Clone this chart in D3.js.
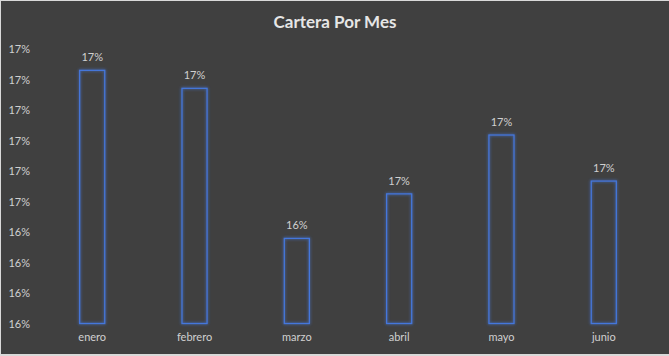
<!DOCTYPE html>
<html><head><meta charset="utf-8">
<script src="https://cdn.jsdelivr.net/npm/d3@7"></script>
<style>
html,body{margin:0;padding:0;background:#d9d9d9;overflow:hidden;}
svg{display:block;}
</style></head>
<body>
<script>
const categories = ["enero","febrero","marzo","abril","mayo","junio"];
const values = [0.16930, 0.16871, 0.16379, 0.16525, 0.16718, 0.16567];
const yTicks = [0.161,0.162,0.163,0.164,0.165,0.166,0.167,0.168,0.169,0.170];
const title = "Cartera Por Mes";

const W = 669, H = 356;
const svg = d3.select("body").append("svg").attr("width", W).attr("height", H);
const defs = svg.append("defs");
const f = defs.append("filter").attr("id","glow").attr("x","-50%").attr("y","-50%").attr("width","200%").attr("height","200%");
f.append("feGaussianBlur").attr("in","SourceGraphic").attr("stdDeviation",1.8).attr("result","b");
const m = f.append("feMerge");
m.append("feMergeNode").attr("in","b");
m.append("feMergeNode").attr("in","SourceGraphic");

svg.append("rect").attr("x",1).attr("y",1).attr("width",W-1).attr("height",H-3).attr("fill","#404040");

const font = "Lato, 'Open Sans', sans-serif";
const x = d3.scaleBand().domain(categories).range([41, 655]).paddingInner(0.755).paddingOuter(0.378);
const y = d3.scaleLinear().domain([0.161, 0.170]).range([323.5, 49]);
const fmt = d3.format(".0%");

svg.append("text").attr("x", 335).attr("y", 28).attr("text-anchor","middle")
  .attr("font-family", font).attr("font-weight","bold").attr("font-size", 17)
  .attr("fill","#e6e6e6").text(title);

const yAxis = svg.append("g").attr("transform","translate(30,0)")
  .call(d3.axisLeft(y).tickValues(yTicks).tickFormat(fmt).tickSize(0).tickPadding(0));
yAxis.select(".domain").remove();
yAxis.selectAll("text").attr("font-family", font).attr("font-size", 11).attr("fill","#d0d0d0");

const xAxis = svg.append("g").attr("transform","translate(0,323.5)")
  .call(d3.axisBottom(x).tickSize(0).tickPadding(10));
xAxis.select(".domain").remove();
xAxis.selectAll("text").attr("font-family", font).attr("font-size", 11).attr("fill","#d0d0d0");

const data = categories.map((c,i)=>({c, v: values[i]}));
svg.append("g").selectAll("rect").data(data).join("rect")
  .attr("x", d => x(d.c)).attr("y", d => y(d.v))
  .attr("width", x.bandwidth()).attr("height", d => y(0.161) - y(d.v))
  .attr("fill","none").attr("stroke","#4577dc").attr("stroke-width",1.25)
  .attr("filter","url(#glow)");

svg.append("g").selectAll("text").data(data).join("text")
  .attr("x", d => x(d.c) + x.bandwidth()/2).attr("y", d => y(d.v) - 9)
  .attr("text-anchor","middle").attr("font-family", font).attr("font-size", 11)
  .attr("fill","#d0d0d0").text(d => fmt(d.v));
</script>
</body></html>
